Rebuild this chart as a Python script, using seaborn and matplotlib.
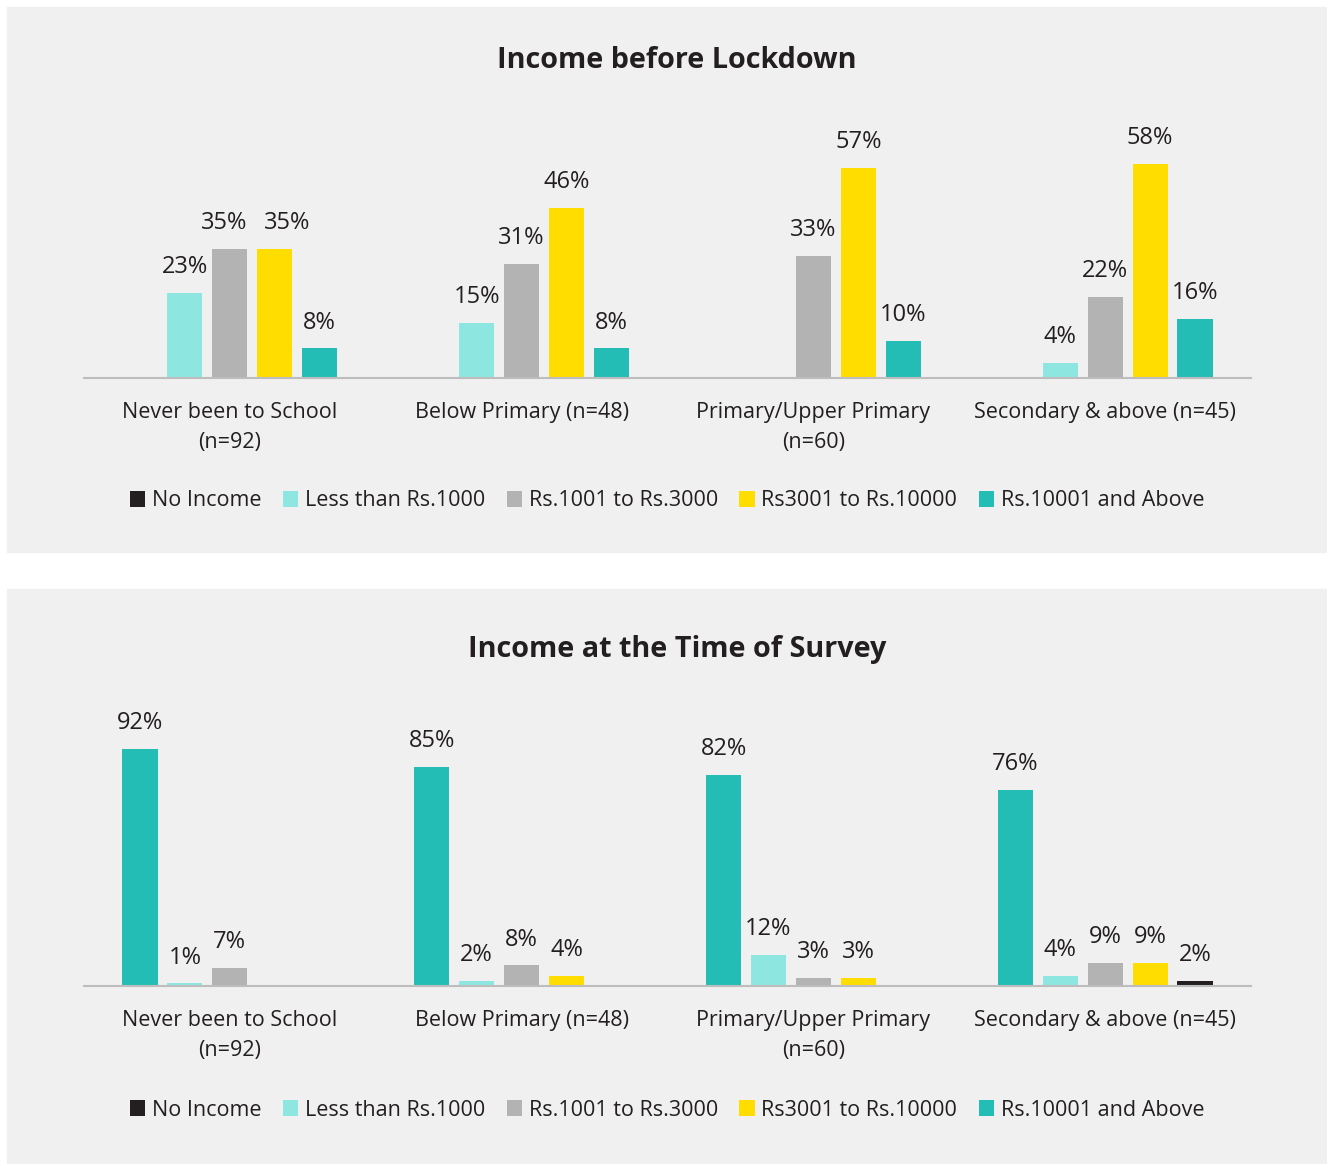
import numpy as np
import pandas as pd
import matplotlib
matplotlib.use("Agg")
import matplotlib.pyplot as plt
from matplotlib.patches import Rectangle, Patch
import seaborn as sns

groups = ["Never been to School\n(n=92)", "Below Primary (n=48)",
          "Primary/Upper Primary\n(n=60)", "Secondary & above (n=45)"]
levels = ["No Income", "Less than Rs.1000", "Rs.1001 to Rs.3000",
          "Rs3001 to Rs.10000", "Rs.10001 and Above"]

# income before lockdown, % per education group
before_no_income = [0, 0, 0, 0]
before_lt_1000 = [23, 15, 0, 4]
before_1001_3000 = [35, 31, 33, 22]
before_3001_10000 = [35, 46, 57, 58]
before_10001_up = [8, 8, 10, 16]

# income at the time of survey
survey_no_income = [92, 85, 82, 76]
survey_lt_1000 = [1, 2, 12, 4]
survey_1001_3000 = [7, 8, 3, 9]
survey_3001_10000 = [0, 4, 3, 9]
survey_10001_up = [0, 0, 0, 2]

BG = "#EFF0EF"
TXT = "#231F20"
BLACK = "#231F20"
CYAN = "#8DE6DF"
GREY = "#B3B3B3"
YELLOW = "#FFDD00"
TEAL = "#23BDB6"

legend_colors = [BLACK, CYAN, GREY, YELLOW, TEAL]
# the printed survey chart uses teal first and black last
survey_colors = [TEAL, CYAN, GREY, YELLOW, BLACK]

sns.set_theme(style="white")
plt.rcParams["font.family"] = ["Open Sans", "DejaVu Sans"]

W, H = 1327, 1164
fig = plt.figure(figsize=(W / 100, H / 100), dpi=100)
fig.patch.set_facecolor("white")

# grey panels
fig.add_artist(Rectangle((7 / W, 1 - 552 / H), 1320 / W, 545 / H,
                         transform=fig.transFigure, color=BG, zorder=0))
fig.add_artist(Rectangle((7 / W, 1 - 1163 / H), 1320 / W, 574 / H,
                         transform=fig.transFigure, color=BG, zorder=0))


def make_df(series):
    rows = []
    for lvl, vals in zip(levels, series):
        for g, v in zip(groups, vals):
            rows.append({"group": g, "level": lvl, "value": v})
    return pd.DataFrame(rows)


def draw_panel(rect, series, colors, ymax, title, title_y, legend_y, nudge=None):
    nudge = nudge or {}
    ax = fig.add_axes(rect)
    ax.set_facecolor("none")
    df = make_df(series)
    sns.barplot(data=df, x="group", y="value", hue="level", order=groups,
                hue_order=levels, palette=colors, saturation=1,
                width=0.77, gap=0.22, linewidth=0, errorbar=None,
                legend=False, ax=ax)
    for li, (cont, vals) in enumerate(zip(ax.containers, series)):
        for gi, (bar, v) in enumerate(zip(cont, vals)):
            if v <= 0:
                continue
            dx = nudge.get((gi, li), 0)
            ax.annotate(f"{v}%", (bar.get_x() + bar.get_width() / 2, bar.get_height()),
                        xytext=(dx, 10), textcoords="offset points",
                        ha="center", va="bottom", fontsize=17, color=TXT)
    ax.set_xlim(-0.5, 3.5)
    ax.set_ylim(0, ymax)
    ax.set_xlabel("")
    ax.set_ylabel("")
    ax.set_yticks([])
    for s in ["top", "right", "left"]:
        ax.spines[s].set_visible(False)
    ax.spines["bottom"].set_color("#BDBDBD")
    ax.spines["bottom"].set_linewidth(1.5)
    ax.tick_params(axis="x", length=0, pad=17, labelsize=15.5, labelcolor=TXT)
    for lab in ax.get_xticklabels():
        lab.set_linespacing(1.6)

    fig.text(677 / W, title_y, title, ha="center", va="center",
             fontsize=20.7, fontweight="bold", color=TXT)

    handles = [Patch(facecolor=c, edgecolor="none", label=l)
               for c, l in zip(legend_colors, levels)]
    ax.legend(handles=handles, loc="center", bbox_to_anchor=(667 / W, legend_y),
              bbox_transform=fig.transFigure, ncol=5, frameon=False,
              fontsize=15.5, handlelength=0.72, handleheight=0.72,
              handletextpad=0.3, columnspacing=1.0, labelcolor=TXT)
    return ax


before = [before_no_income, before_lt_1000, before_1001_3000,
          before_3001_10000, before_10001_up]
survey = [survey_no_income, survey_lt_1000, survey_1001_3000,
          survey_3001_10000, survey_10001_up]

# the two 35% labels are pushed apart so they do not collide
draw_panel([84 / W, 1 - 378 / H, 1167 / W, 240 / H], before, legend_colors, 65,
           "Income before Lockdown", 1 - 60 / H, 1 - 501 / H,
           nudge={(0, 2): -4, (0, 3): 9})
draw_panel([84 / W, 1 - 986 / H, 1167 / W, 257.6 / H], survey, survey_colors, 100,
           "Income at the Time of Survey", 1 - 649 / H, 1 - 1110 / H)

fig.savefig("out.png", dpi=100, facecolor=fig.get_facecolor())
